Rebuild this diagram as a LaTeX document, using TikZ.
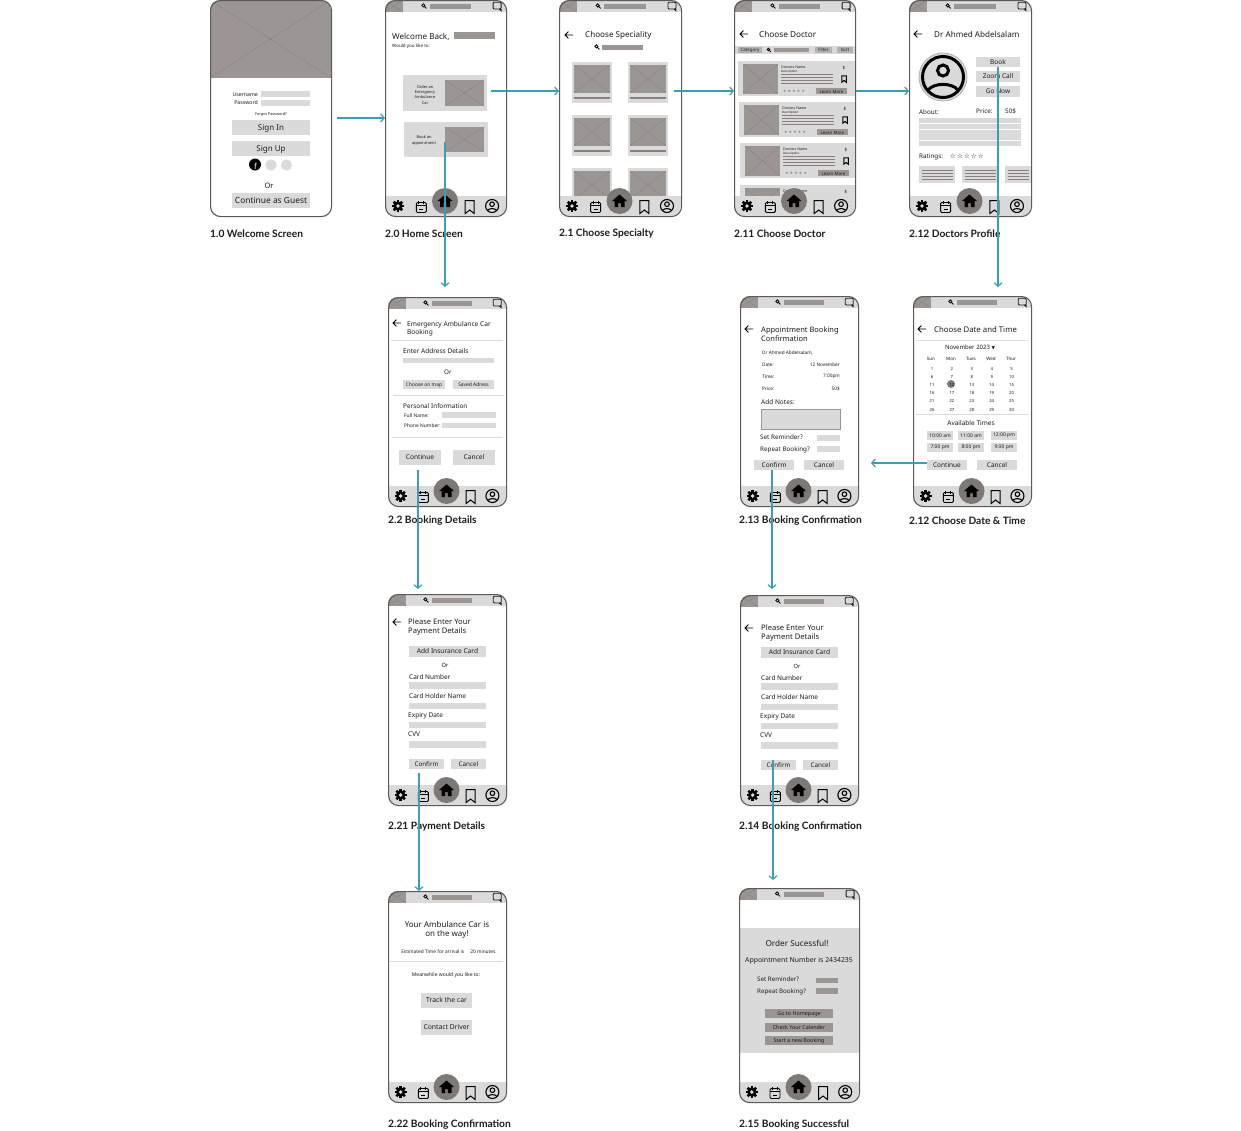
\documentclass[tikz,border=0pt]{standalone}
\usepackage{fontspec}
\setmainfont{Noto Sans}
\newfontfamily\capfont{Lato}
\newfontfamily\symfont{DejaVu Sans}
\usetikzlibrary{arrows.meta}
\definecolor{ink}{HTML}{1C1C1C}
\definecolor{edgegray}{HTML}{5A5A5A}
\definecolor{lightgray}{HTML}{DADADA}
\definecolor{midgray}{HTML}{B4B2B1}
\definecolor{imggray}{HTML}{9B9694}
\definecolor{crossgray}{HTML}{86817F}
\definecolor{homegray}{HTML}{7E7977}
\definecolor{flowteal}{HTML}{3A9FB3}
\tikzset{
  txt/.style={font=\fontsize{#1}{#1}\selectfont, inner sep=0pt, text=ink, yshift=-.6pt},
  ltxt/.style={txt=#1, anchor=west},
  captext/.style={font=\capfont\bfseries\fontsize{10.2}{12}\selectfont, inner sep=0pt, anchor=west, text=ink},
  btnbox/.style={fill=lightgray, inner sep=0pt, text=ink},
  phone/.style={draw=edgegray, line width=1.1pt, rounded corners=10pt, inner sep=0pt, anchor=north west},
  flow/.style={draw=flowteal, line width=1.2pt, -{Straight Barb[length=3.5pt,width=8pt]}},
  field/.style={fill=lightgray},
  rule/.style={draw=lightgray, line width=.8pt},
  gearicon/.pic={
    \foreach \a in {0,45,...,315} {\fill[black, rotate=\a] (-1.3,-6) rectangle (1.3,0);}
    \fill[black] (0,0) circle (4.6pt);
    \fill[lightgray] (0,0) circle (1.9pt);
  },
  calicon/.pic={
    \draw[black, line width=.9pt, rounded corners=1.2pt] (-5,-4.5) rectangle (5,5.5);
    \draw[black, line width=.9pt] (-5,-1.5) -- (5,-1.5) (-2.5,-6) -- (-2.5,-3.2) (2.5,-6) -- (2.5,-3.2) (-2,2) -- (2,2);
  },
  homeicon/.pic={
    \fill[homegray] (0,0) circle (13pt);
    \fill[black] (-7.5,0) -- (0,-6.5) -- (7.5,0) -- (5,0) -- (5,6) -- (1.4,6) -- (1.4,2) -- (-1.4,2) -- (-1.4,6) -- (-5,6) -- (-5,0) -- cycle;
  },
  markicon/.pic={
    \draw[black, line width=1pt] (-4.5,-6.5) -- (4.5,-6.5) -- (4.5,6.5) -- (0,3) -- (-4.5,6.5) -- cycle;
  },
  usericon/.pic={
    \draw[black, line width=1.1pt] (0,0) circle (6.5pt) (0,-1.8) circle (2.3pt);
    \draw[black, line width=1.1pt] (-4.6,4.4) .. controls (-2.5,2) and (2.5,2) .. (4.6,4.4);
  },
  searchicon/.pic={
    \draw[black, line width=.8pt] (-.6,-.6) circle (1.6pt) (.6,.6) -- (2.4,2.4);
  },
  chaticon/.pic={
    \draw[ink, line width=.9pt, rounded corners=1pt] (-4,-3.8) rectangle (4,3);
    \draw[ink, line width=.9pt] (4,3) -- (4,4.6) -- (2,3);
  },
  backicon/.pic={
    \draw[black, line width=.9pt] (-4,0) -- (4,0) (-.6,-3.4) -- (-4,0) -- (-.6,3.4);
  }
}
\newcommand{\wirebox}[4]{
  \fill[imggray] (#1,#2) rectangle (#3,#4);
  \draw[crossgray, line width=.3pt] (#1,#2) -- (#3,#4) (#1,#4) -- (#3,#2);
}
\newcommand{\btntext}{}
\newcommand{\btn}[7][btnbox]{
  \pgfmathsetmacro\bw{#5-#3}
  \pgfmathsetmacro\bh{#6-#4}
  \node (#2) [#1, minimum width=\bw pt, minimum height=\bh pt, text height=0pt, text depth=0pt, font=\fontsize{#7}{#7}\selectfont] at ({(#3+#5)/2},{(#4+#6)/2}) {\raisebox{-.36em}{\btntext}};
}
\newcommand{\chrome}[4]{
  \begin{scope}[shift={(#1,#2)}]
    \begin{scope}
      \clip[rounded corners=10pt] (0,0) rectangle (#3,#4);
      \fill[lightgray] (0,0) rectangle (#3,12);
      \fill[lightgray] (0,{#4-20}) rectangle (#3,#4);
      \wirebox{0}{0}{18}{12}
    \end{scope}
    \fill[imggray] ({#3*.372},4) rectangle ({#3*.711},9);
    \pic at ({#3*.322},6) {searchicon};
    \pic at ({#3*.926},6) {chaticon};
    \pic at ({#3*.107},{#4-10}) {gearicon};
    \pic at ({#3*.3},{#4-9}) {calicon};
    \pic at ({#3*.7},{#4-9}) {markicon};
    \pic at ({#3*.885},{#4-10}) {usericon};
    \pic at ({#3*.496},{#4-15}) {homeicon};
  \end{scope}
}
\newcommand{\phoneframe}[5]{
  \node (#1) [phone, minimum width=#4pt, minimum height=#5pt] at (#2,#3) {};
}
\newcommand{\payform}[3]{
  \begin{scope}[shift={(#2,#3)}]
    \renewcommand{\btntext}{Add Insurance Card}
    \btn{#1ins}{409}{646}{486}{657}{6.6}
    \node (#1or) [txt=5.8] at (445,665) {Or};
    \node (#1num) [ltxt=6.5] at (409,676) {Card Number};
    \fill[field] (409,682) rectangle (486,688.5);
    \node (#1holder) [ltxt=6.5] at (409,695) {Card Holder Name};
    \fill[field] (409,703) rectangle (486,709);
    \node (#1exp) [ltxt=6.5] at (408,715) {Expiry Date};
    \fill[field] (409,722) rectangle (486,728);
    \node (#1cvv) [ltxt=6.5] at (408,734) {CVV};
    \fill[field] (409,741) rectangle (486,747.5);
    \renewcommand{\btntext}{Confirm}
    \btn{#1ok}{409}{759}{444}{769}{6.3}
    \renewcommand{\btntext}{Cancel}
    \btn{#1no}{451}{759}{486}{769}{6.3}
  \end{scope}
}
\begin{document}
\begin{tikzpicture}[x=1pt,y=-1pt]
  \useasboundingbox (0,0) rectangle (1241,1130);
  \fill[white] (0,0) rectangle (1241,1130);

  \begin{scope}
    \clip[rounded corners=10pt] (210,0) rectangle (331,216);
    \wirebox{210}{0}{331}{78}
  \end{scope}
  \node (wuser) [txt=5.2, anchor=east] at (258,94) {Username};
  \fill[field] (261,91) rectangle (310,97);
  \node (wpass) [txt=5.2, anchor=east] at (258,102) {Password};
  \fill[field] (261,100) rectangle (310,105.5);
  \node (wforgot) [txt=3.8] at (271,114) {Forgot Password?};
  \renewcommand{\btntext}{Sign In}
  \btn{signin}{232}{120}{310}{135}{8}
  \renewcommand{\btntext}{Sign Up}
  \btn{signup}{232}{141}{310}{156}{8}
  \fill[black] (255,164.5) circle (6pt);
  \node (wfb) [font=\bfseries\fontsize{8}{8}\selectfont, inner sep=0pt, text=white] at (255.5,166) {f};
  \fill[lightgray] (271,165) circle (5.6pt) (286.5,165) circle (5.6pt);
  \node (wor) [txt=7.5] at (269,185) {Or};
  \renewcommand{\btntext}{Continue as Guest}
  \btn{guest}{232}{193}{310}{208}{8.4}
  \phoneframe{welcome}{210}{0}{121}{216}
  \node (capwelcome) [captext] at (210,234) {1.0 Welcome Screen};

  \node (hback) [ltxt=8.1] at (392,36) {Welcome Back,};
  \fill[imggray] (454,32) rectangle (495,39);
  \node (hlike) [ltxt=4.5] at (392,46) {Would you like to:};
  \fill[lightgray] (403,75) rectangle (487,111);
  \wirebox{445}{80}{484}{106}
  \node (hamb) [txt=3.9, align=center, font=\fontsize{3.9}{5.3}\selectfont] at (425,94) {Order an\\Emergency\\Ambulance\\Car};
  \fill[lightgray] (404,122) rectangle (488,157);
  \wirebox{445}{127}{484}{152}
  \node (happt) [txt=3.9, align=center, font=\fontsize{3.9}{5.3}\selectfont] at (424,140) {Book an\\appointment};
  \chrome{385}{0}{121}{216}
  \phoneframe{home}{385}{0}{121}{216}
  \node (caphome) [captext] at (385,234) {2.0 Home Screen};

  \pic at (569,35) {backicon};
  \node (stitle) [ltxt=8.1] at (585,35) {Choose Speciality};
  \pic at (597,47) {searchicon};
  \fill[imggray] (602,45) rectangle (643,50);
  \foreach \tx in {572,628} {
    \foreach \ty in {62,115,168} {
      \fill[lightgray] (\tx,\ty) rectangle (\tx+40,\ty+41);
      \wirebox{\tx+2}{\ty+3}{\tx+38}{\ty+31}
      \fill[crossgray] (\tx+2,\ty+35) rectangle (\tx+38,\ty+36.5);
    }
  }
  \chrome{559}{0}{122}{216}
  \phoneframe{choose}{559}{0}{122}{216}
  \node (capchoose) [captext] at (559,234) {2.1 Choose Specialty};

  \pic at (744,34) {backicon};
  \node (dtitle) [ltxt=8.2] at (759,34) {Choose Doctor};
  \fill[lightgray] (734,46) rectangle (855,54);
  \renewcommand{\btntext}{Category}
  \btn[btnbox, fill=midgray]{dcat}{738}{47}{762}{53}{4.4}
  \pic[scale=.8] at (769,50) {searchicon};
  \fill[imggray] (774,48) rectangle (809,52);
  \renewcommand{\btntext}{Filter}
  \btn[btnbox, fill=midgray]{dfilter}{815}{47}{832}{53}{4.4}
  \renewcommand{\btntext}{Sort}
  \btn[btnbox, fill=midgray]{dsort}{837}{47}{853}{53}{4.4}
  \begin{scope}
    \clip (734,0) rectangle (855,205);
    \foreach \i/\dx/\dy in {a/0/0,b/1/41,c/2/82,d/2/124} {
      \begin{scope}[shift={(\dx,\dy)}]
        \fill[lightgray] (738,61) rectangle (855-\dx,96);
        \wirebox{743}{64}{778}{94}
        \node (dname\i) [ltxt=3.6] at (781,66.5) {Doctors Name};
        \node (ddesc\i) [ltxt=3] at (781,71.5) {Description};
        \draw[crossgray, line width=.7pt] (781,74.5) -- (833,74.5) (781,77.5) -- (833,77.5) (781,80.5) -- (833,80.5) (781,83.5) -- (833,83.5);
        \node (dcost\i) [txt=4.5] at (844,67.5) {\$};
        \pic[scale=.5] at (844,79) {markicon};
        \node (dstar\i) [txt=3.8, text=crossgray] at (794,91) {\symfont ★ ★ ★ ★ ★};
        \fill[imggray] (816,88) rectangle (847,94);
        \node (dmore\i) [txt=4.4] at (831.5,91) {Learn More};
      \end{scope}
    }
  \end{scope}
  \chrome{734}{0}{121}{216}
  \phoneframe{doctor}{734}{0}{121}{216}
  \node (capdoctor) [captext] at (734,234) {2.11 Choose Doctor};

  \pic at (918,34) {backicon};
  \node (ptitle) [ltxt=8.1] at (934,34) {Dr Ahmed Abdelsalam};
  \fill[lightgray, draw=midgray, line width=.8pt] (943,77) circle (24pt);
  \draw[black, line width=3pt] (943,77) circle (20.5pt) (943,70.5) circle (5.5pt);
  \draw[black, line width=3pt] (928,90) .. controls (934,82.5) and (952,82.5) .. (958,90);
  \renewcommand{\btntext}{Book}
  \btn{pbook}{976}{57}{1020}{67}{6.5}
  \renewcommand{\btntext}{Zoom Call}
  \btn{pzoom}{976}{71}{1020}{82}{6.5}
  \renewcommand{\btntext}{Go Now}
  \btn{pgo}{976}{86}{1020}{97}{6.5}
  \node (pabout) [ltxt=6.3] at (919,112) {About:};
  \node (pprice) [ltxt=6.3] at (976,111) {Price:};
  \node (pcost) [ltxt=6.3] at (1005,111) {50\$};
  \foreach \ty in {118,124,130,135,141} {
    \fill[field] (919,\ty) rectangle (1021,\ty+4.5);
  }
  \node (prate) [ltxt=6.3] at (919,156) {Ratings:};
  \node (pstars) [ltxt=6.5, text=black] at (950,156) {\symfont ☆\,☆\,☆\,☆\,☆};
  \foreach \tx/\tw in {919/36,962/36,1005/26} {
    \fill[lightgray] (\tx,166) rectangle (\tx+\tw,183);
    \foreach \ty in {170,173,176,179} {
      \draw[crossgray, line width=.7pt] (\tx+3,\ty) -- (\tx+\tw-2,\ty);
    }
  }
  \chrome{909}{0}{122}{216}
  \phoneframe{profile}{909}{0}{122}{216}
  \node (capprofile) [captext] at (909,234) {2.12 Doctors Profile};

  \pic at (397,323) {backicon};
  \node (btitle) [ltxt=6.6, align=left, font=\fontsize{6.6}{8.2}\selectfont] at (407,328) {Emergency Ambulance Car\\Booking};
  \draw[rule] (391,340) -- (503,340) (393,395) -- (504,395) (392,437) -- (503,437);
  \node (baddr) [ltxt=6.5] at (403,350) {Enter Address Details};
  \fill[field] (403,358) rectangle (494,363);
  \node (bor) [txt=6.3] at (448,372) {Or};
  \renewcommand{\btntext}{Choose on map}
  \btn{bmap}{403}{380}{445}{389}{4.9}
  \renewcommand{\btntext}{Saved Adress}
  \btn{bsaved}{453}{380}{494}{389}{4.9}
  \node (bpers) [ltxt=6.4] at (403,405) {Personal Information};
  \node (bfull) [ltxt=4.9] at (404,415) {Full Name:};
  \fill[field] (442,412) rectangle (496,418);
  \node (bphone) [ltxt=4.9] at (404,425) {Phone Number:};
  \fill[field] (442,423) rectangle (496,428);
  \renewcommand{\btntext}{Continue}
  \btn{bcont}{399}{450}{441}{465}{6.6}
  \renewcommand{\btntext}{Cancel}
  \btn{bcancel}{453}{450}{495}{465}{6.6}
  \chrome{388}{297}{118}{209}
  \phoneframe{booking}{388}{297}{118}{209}
  \node (capbooking) [captext] at (388,521) {2.2 Booking Details};

  \pic at (749,329) {backicon};
  \node (ctitle) [ltxt=7.5, align=left, font=\fontsize{7.5}{9.4}\selectfont] at (761,333.5) {Appointment Booking\\Confirmation};
  \node (cdr) [ltxt=4.7] at (762,352.5) {Dr Ahmed Abdelsalam,};
  \node (cdate) [ltxt=4.7] at (762,364.5) {Date:};
  \node (cdatev) [txt=4.7, anchor=east] at (840,364.5) {12 November};
  \node (ctime) [ltxt=4.7] at (762,376) {Time:};
  \node (ctimev) [txt=4.7, anchor=east] at (840,376) {7:00pm};
  \node (cprice) [ltxt=4.7] at (762,388) {Price:};
  \node (cpricev) [txt=4.7, anchor=east] at (840,388) {50\$};
  \node (cnotes) [ltxt=6.5] at (761,401) {Add Notes:};
  \fill[lightgray, draw=imggray, line width=.8pt] (761,409) rectangle (840,429);
  \node (cremind) [ltxt=6.3] at (760,437) {Set Reminder?};
  \fill[field] (817,435) rectangle (840,441);
  \node (crepeat) [ltxt=6.3] at (760,449) {Repeat Booking?};
  \fill[field] (817,446) rectangle (840,452);
  \renewcommand{\btntext}{Confirm}
  \btn{cok}{754}{460}{794}{470}{6.5}
  \renewcommand{\btntext}{Cancel}
  \btn{cno}{804}{460}{844}{470}{6.5}
  \chrome{740}{296}{118}{210}
  \phoneframe{confirm}{740}{296}{118}{210}
  \node (capconfirm) [captext] at (739,521) {2.13 Booking Confirmation};

  \pic at (922,329) {backicon};
  \node (etitle) [ltxt=7.8] at (934,329) {Choose Date and Time};
  \draw[rule] (916,340) -- (1028,340) (916,414) -- (1028,414);
  \node (emonth) [txt=6] at (970,347) {November 2023 {\symfont\fontsize{4.5}{4.5}\selectfont ▼}};
  \foreach \dn/\tx in {Sun/931,Mon/951,Tues/971,Wed/991,Thur/1011} {
    \node (e\dn) [txt=4.5] at (\tx,358) {\dn};
  }
  \fill[homegray] (951,384) circle (4pt);
  \foreach \rw in {0,...,5} {
    \foreach \cl in {0,...,4} {
      \pgfmathtruncatemacro\dnum{\rw*5+\cl+1}
      \node (day\dnum) [txt=4.2] at ({932+\cl*19.9},{368+\rw*8.2}) {\dnum};
    }
  }
  \node (eavail) [txt=6.5] at (971,422) {Available Times};
  \foreach \tn/\tlabel/\tx/\ty in {a/10:00 am/927/431,b/11:00 am/958/431,c/12:00 pm/991/431,d/7:00 pm/927/443,e/8:00 pm/958/443,f/9:00 pm/991/443} {
    \node (etime\tn) [btnbox, minimum width=26pt, minimum height=9pt, font=\fontsize{5}{5}\selectfont] at (\tx+13,\ty+4.5) {\tlabel};
  }
  \renewcommand{\btntext}{Continue}
  \btn{econt}{927}{460}{967}{470}{6.5}
  \renewcommand{\btntext}{Cancel}
  \btn{eno}{977}{460}{1017}{470}{6.5}
  \chrome{913}{296}{118}{210}
  \phoneframe{datetime}{913}{296}{118}{210}
  \node (capdatetime) [captext] at (909,521) {2.12 Choose Date \& Time};

  \pic at (397,622) {backicon};
  \node (ytitle) [ltxt=7.6, align=left, font=\fontsize{7.6}{9.4}\selectfont] at (408,626.5) {Please Enter Your\\Payment Details};
  \payform{y}{0}{0}
  \chrome{388}{594}{118}{211}
  \phoneframe{payment}{388}{594}{118}{211}
  \node (cappayment) [captext] at (388,827) {2.21 Payment Details};

  \pic at (749,628) {backicon};
  \node (ztitle) [ltxt=7.6, align=left, font=\fontsize{7.6}{9.4}\selectfont] at (761,632.5) {Please Enter Your\\Payment Details};
  \payform{z}{352}{1}
  \chrome{740}{595}{118}{210}
  \phoneframe{payconfirm}{740}{595}{118}{210}
  \node (cappayconfirm) [captext] at (739,827) {2.14 Booking Confirmation};

  \node (otitle) [txt=8, align=center, font=\fontsize{8}{9.6}\selectfont] at (447,929.5) {Your Ambulance Car is\\on the way!};
  \node (oeta) [txt=4.8] at (449,951) {Estimated Time for arrival is \quad 20 minutes.};
  \draw[rule] (390,961) -- (503,961);
  \node (omean) [txt=5] at (446,975) {Meanwhile would you like to:};
  \renewcommand{\btntext}{Track the car}
  \btn{otrack}{421}{993}{472}{1008}{6.8}
  \renewcommand{\btntext}{Contact Driver}
  \btn{ocontact}{421}{1020}{472}{1035}{6.8}
  \chrome{388}{891}{118}{211}
  \phoneframe{ontheway}{388}{891}{118}{211}
  \node (capontheway) [captext] at (388,1125) {2.22 Booking Confirmation};

  \fill[lightgray] (739,928) rectangle (859,1053);
  \node (ftitle) [txt=8.2] at (797,943) {Order Sucessful!};
  \node (fnum) [txt=6.9] at (799,960) {Appointment Number is 2434235};
  \node (fremind) [ltxt=6.2] at (757,979) {Set Reminder?};
  \fill[imggray] (816,978) rectangle (838,983);
  \node (frepeat) [ltxt=6.2] at (757,991) {Repeat Booking?};
  \fill[imggray] (816,988) rectangle (838,994);
  \renewcommand{\btntext}{Go to Homepage}
  \btn[btnbox, fill=imggray]{fhome}{765}{1009}{833}{1018}{5.4}
  \renewcommand{\btntext}{Check Your Calender}
  \btn[btnbox, fill=imggray]{fcal}{765}{1023}{833}{1032}{5.4}
  \renewcommand{\btntext}{Start a new Booking}
  \btn[btnbox, fill=imggray]{fnew}{765}{1036}{833}{1045}{5.4}
  \chrome{739}{888}{120}{214}
  \phoneframe{success}{739}{888}{120}{214}
  \node (capsuccess) [captext] at (739,1125) {2.15 Booking Successful};

  \coordinate (fromwelcome) at (337,118);
  \coordinate (fromhome) at (491,91);
  \coordinate (fromchoose) at (674,91);
  \coordinate (fromdoctor) at (856,91);
  \coordinate (toambul) at (445,287);
  \coordinate (fromappt) at (445,142);
  \coordinate (tocal) at (998,287);
  \coordinate (todt) at (871,463);
  \coordinate (frombook) at (418,470);
  \coordinate (topay) at (418,589);
  \coordinate (fromconf) at (772,470);
  \coordinate (topayc) at (772,589);
  \coordinate (frompay) at (419,773);
  \coordinate (frompayc) at (773,760);
  \coordinate (tosucc) at (773,880);
  \draw[flow] (fromwelcome) -- (fromwelcome -| home.west);
  \draw[flow] (fromhome) -- (fromhome -| choose.west);
  \draw[flow] (fromchoose) -- (fromchoose -| doctor.west);
  \draw[flow] (fromdoctor) -- (fromdoctor -| profile.west);
  \draw[flow] (fromappt) -- (toambul);
  \draw[flow] (pbook.south) -- (tocal);
  \draw[flow] (todt -| econt.west) -- (todt);
  \draw[flow] (frombook) -- (topay);
  \draw[flow] (fromconf) -- (topayc);
  \draw[flow] (frompay) -- (frompay |- ontheway.north);
  \draw[flow] (frompayc) -- (tosucc);
\end{tikzpicture}
\end{document}
